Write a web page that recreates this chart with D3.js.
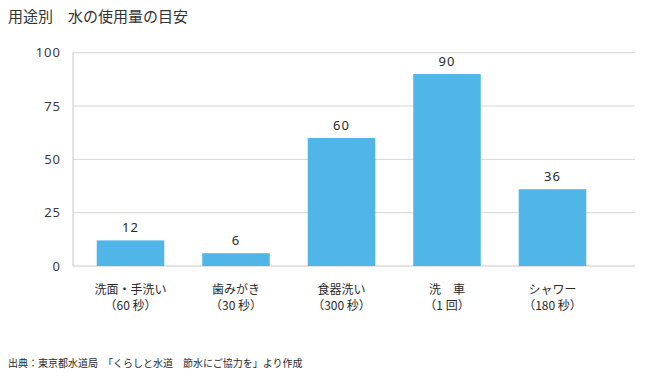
<!DOCTYPE html>
<html><head><meta charset="utf-8">
<script src="https://cdn.jsdelivr.net/npm/d3@7"></script>
<style>
body{margin:0;background:#fff;}
text{font-family:"Noto Sans CJK JP","Noto Sans",sans-serif;}
</style></head>
<body>
<svg id="c" width="650" height="381"></svg>
<script>
const categories = ["洗面・手洗い|（60 秒）","歯みがき|（30 秒）","食器洗い|（300 秒）","洗　車|（1 回）","シャワー|（180 秒）"];
const values = [12, 6, 60, 90, 36];
const yTicks = [0, 25, 50, 75, 100];
const title = "用途別　水の使用量の目安";
const source = "出典：東京都水道局　「くらしと水道　節水にご協力を」より作成";

const svg = d3.select("#c");
const plotLeft = 73, plotRight = 635;
const x = d3.scaleBand().domain(categories).range([77.75, 605.25]).paddingInner(0.36).paddingOuter(0.18);
const y = d3.scaleLinear().domain([0, 100]).range([266, 52.7]);

svg.append("text").attr("x", 8).attr("y", 22).attr("font-size", 15).attr("fill", "#333").text(title);

// grid
svg.append("g").selectAll("line").data(yTicks).join("line")
  .attr("x1", plotLeft).attr("x2", plotRight)
  .attr("y1", d => y(d)).attr("y2", d => y(d))
  .attr("stroke", d => d === 0 ? "#c8c8c8" : "#d6d6d6").attr("stroke-width", 1);
svg.append("line").attr("x1", plotLeft).attr("x2", plotLeft).attr("y1", y(100)).attr("y2", y(0)).attr("stroke", "#c8c8c8");

// y labels
const yAxis = d3.axisLeft(y).tickValues(yTicks).tickSize(0).tickPadding(12);
const ga = svg.append("g").attr("transform", `translate(${plotLeft},0)`).call(yAxis);
ga.select(".domain").remove();
ga.selectAll("text").attr("font-size", 13).attr("fill", "#3a3a3a").attr("letter-spacing", "1px")
  .style("font-family", '"Noto Sans","Noto Sans CJK JP",sans-serif');

// bars
svg.append("g").selectAll("rect").data(values).join("rect")
  .attr("x", (d, i) => x(categories[i])).attr("width", x.bandwidth())
  .attr("y", d => y(d)).attr("height", d => y(0) - y(d))
  .attr("fill", "#50b6e7");

// value labels
svg.append("g").selectAll("text").data(values).join("text")
  .attr("x", (d, i) => x(categories[i]) + x.bandwidth() / 2)
  .attr("y", d => y(d) - 8)
  .attr("text-anchor", "middle").attr("font-size", 13).attr("fill", "#2a2a2a").attr("letter-spacing", "1px")
  .style("font-family", '"Noto Sans","Noto Sans CJK JP",sans-serif')
  .text(d => d);

// category labels
const cg = svg.append("g").selectAll("text").data(categories).join("text")
  .attr("text-anchor", "middle").attr("font-size", 12).attr("fill", "#2a2a2a")
  .attr("transform", d => `translate(${x(d) + x.bandwidth() / 2},0)`);
cg.selectAll("tspan").data(d => d.split("|")).join("tspan")
  .attr("x", 0).attr("y", (d, i) => 294 + i * 16).text(d => d);

svg.append("text").attr("x", 8).attr("y", 367).attr("font-size", 10).attr("fill", "#2a2a2a").text(source);
</script>
</body></html>
